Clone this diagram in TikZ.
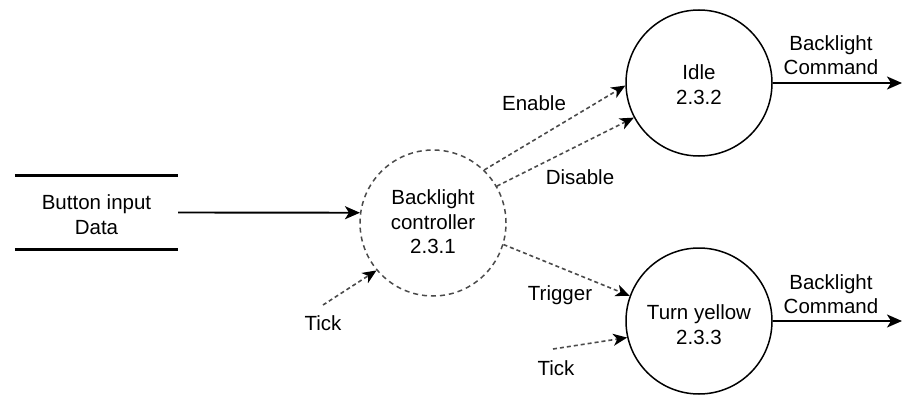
\documentclass[tikz,border=0pt]{standalone}
\usepackage{fontspec}
\setmainfont{Liberation Sans}
\usetikzlibrary{arrows.meta}
\definecolor{dashgray}{HTML}{4A4A4A}
\begin{document}
\begin{tikzpicture}[x=1pt,y=-1pt,
  every node/.style={font=\fontsize{20.5}{24.5}\selectfont, align=center, text=black},
  proc/.style={circle, draw=black, line width=1.5pt, minimum size=146pt, inner sep=0pt},
  dproc/.style={circle, draw=dashgray, line width=1.5pt, dash pattern=on 5pt off 4pt, minimum size=146pt, inner sep=0pt},
  store/.style={minimum width=163pt, minimum height=74pt, inner sep=0pt},
  flow/.style={line width=1.9pt, draw=black, -{Stealth[length=15pt,width=13pt,inset=4pt]}},
  dflow/.style={line width=1.6pt, draw=dashgray, dash pattern=on 4pt off 3pt, -{Stealth[length=14pt,width=12pt,inset=4pt,color=black]}},
  lbl/.style={inner sep=0pt}
]
\useasboundingbox (0,0) rectangle (904,396);
% data store
\node[store] (ds) at (96.5,212.5) {};
\node[lbl] (dstext) at (96.5,214.5) {Button input\\Data};
\draw[line width=2.7pt] (ds.north west) -- (ds.north east);
\draw[line width=2.7pt] (ds.south west) -- (ds.south east);
% processes
\node[dproc] (ctrl) at (433,223) {};
\node[lbl] (ctrltext) at (433,222) {Backlight\\controller\\2.3.1};
\node[proc] (idle) at (699,83) {};
\node[lbl] (idletext) at (699,84.5) {Idle\\2.3.2};
\node[proc] (ty) at (699,321) {};
\node[lbl] (tytext) at (699,324.5) {Turn yellow\\2.3.3};
% free ends
\coordinate (tick1s) at (323,305);
\coordinate (tick2s) at (553,349);
\coordinate (out1) at (902,83);
\coordinate (out2) at (902,321);
% flows
\draw[flow] (ds.east) -- (ctrl.172);
\draw[dflow] (tick1s) -- (ctrl.220);
\draw[dflow] (ctrl.46) -- (idle.182);
\draw[dflow] (ctrl.30) -- (idle.208);
\draw[dflow] (ctrl.-17) -- (ty.160);
\draw[dflow] (tick2s) -- (ty.193);
\draw[flow] (idle.east) -- (out1);
\draw[flow] (ty.east) -- (out2);
% labels
\node[lbl] (lenable) at (534,103) {Enable};
\node[lbl] (ldisable) at (580,177) {Disable};
\node[lbl] (ltrigger) at (560,295) {Trigger};
\node[lbl] (ltick1) at (323,323) {Tick};
\node[lbl] (ltick2) at (556,368) {Tick};
\node[lbl] (lcmd1) at (831,55) {Backlight\\Command};
\node[lbl] (lcmd2) at (831,294) {Backlight\\Command};
\end{tikzpicture}
\end{document}
